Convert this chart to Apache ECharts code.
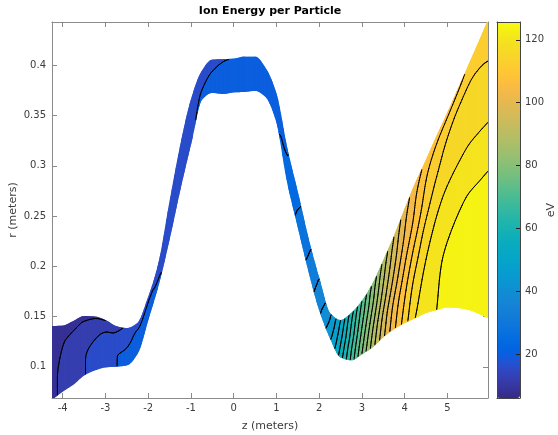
<!DOCTYPE html>
<html>
<head>
<meta charset="utf-8">
<script src="https://cdn.jsdelivr.net/npm/echarts@6/dist/echarts.min.js"></script>
<style>
  html, body { margin: 0; padding: 0; background: #fff; }
  #chart { width: 558px; height: 435px; }
</style>
</head>
<body>
<div id="chart"></div>
<script>
// Axial stations along the device (m)
const zNodes = [-4.25, -4.0, -3.75, -3.5, -3.25, -3.0, -2.75, -2.5, -2.25, -2.0, -1.75, -1.5, -1.25, -1.0,
  -0.75, -0.5, -0.25, 0.0, 0.25, 0.5, 0.75, 1.0, 1.25, 1.5, 1.75, 2.0, 2.25, 2.5, 2.75, 3.0, 3.25, 3.5,
  3.75, 4.0, 4.25, 4.5, 4.75, 5.0, 5.25, 5.5, 5.75, 5.95];

// Radius of the inner and outer bounding flux surfaces (m)
const rLower = [0.068, 0.076, 0.083, 0.092, 0.097, 0.100, 0.1007, 0.102, 0.114, 0.148, 0.184, 0.229, 0.278, 0.323,
  0.366, 0.373, 0.372, 0.3735, 0.374, 0.375, 0.369, 0.345, 0.286, 0.241, 0.197, 0.158, 0.130, 0.110, 0.107, 0.113,
  0.120, 0.130, 0.138, 0.144, 0.149, 0.154, 0.157, 0.1595, 0.159, 0.157, 0.153, 0.149];
const rUpper = [0.140, 0.1405, 0.145, 0.150, 0.1495, 0.146, 0.140, 0.138, 0.143, 0.168, 0.203, 0.262, 0.318, 0.364,
  0.393, 0.405, 0.4055, 0.406, 0.408, 0.408, 0.396, 0.370, 0.316, 0.272, 0.226, 0.187, 0.153, 0.146, 0.153, 0.165,
  0.182, 0.205, 0.229, 0.256, 0.282, 0.305, 0.329, 0.352, 0.376, 0.400, 0.424, 0.444];

// Ion energy per particle (eV) on six surfaces, inner (s = 0) to outer (s = 1)
const energyS0 = [9.5, 10.5, 11.6, 13.8, 15.0, 16.3, 17.9, 18.8, 19.4, 19.2, 18.3, 17.2, 17.2, 17.7,
  18.4, 19.0, 19.4, 19.8, 20.0, 20.3, 20.8, 21.7, 23.0, 27.0, 31.0, 37.0, 45.0, 56.0, 67.0, 78.0,
  88.0, 97.0, 105.0, 112.0, 118.0, 120.5, 122.0, 123.5, 124.5, 125.2, 125.6, 125.7];
const energyS1 = [9.5, 10.5, 11.6, 13.8, 15.0, 16.3, 17.9, 18.5, 19.2, 19.0, 18.0, 17.0, 17.0, 17.4,
  18.1, 18.7, 19.1, 19.6, 19.9, 20.2, 20.7, 21.6, 22.7, 26.5, 30.5, 36.3, 44.0, 54.5, 65.5, 76.0,
  86.0, 95.0, 103.0, 109.5, 115.5, 119.0, 121.3, 122.6, 123.4, 124.0, 124.6, 125.0];
const energyS2 = [9.3, 10.3, 11.4, 13.3, 14.3, 15.6, 17.0, 17.9, 18.8, 18.6, 17.6, 16.8, 16.7, 17.1,
  17.7, 18.3, 18.8, 19.4, 19.8, 20.1, 20.6, 21.4, 22.4, 26.0, 30.0, 35.5, 43.0, 53.0, 63.5, 74.0,
  83.5, 92.0, 99.5, 106.0, 111.5, 116.0, 118.6, 120.3, 121.2, 121.7, 121.8, 121.9];
const energyS3 = [8.0, 9.8, 10.8, 11.8, 12.8, 14.0, 15.0, 16.5, 18.2, 18.2, 17.3, 16.5, 16.4, 16.8,
  17.2, 17.8, 18.5, 19.2, 19.6, 20.0, 20.5, 21.2, 22.1, 25.5, 29.5, 34.8, 42.0, 51.5, 62.0, 72.0,
  81.0, 89.5, 96.5, 102.5, 107.0, 111.5, 114.3, 115.6, 116.2, 116.5, 116.2, 115.8];
const energyS4 = [7.0, 8.5, 9.5, 10.2, 10.8, 11.5, 13.6, 15.6, 17.2, 17.5, 17.0, 16.4, 16.3, 16.6,
  17.0, 17.5, 18.1, 18.7, 19.3, 19.8, 20.4, 21.1, 21.9, 25.2, 29.2, 34.4, 41.5, 50.7, 61.0, 71.0,
  80.0, 88.2, 95.2, 101.2, 105.6, 109.5, 111.9, 113.5, 114.3, 114.6, 114.0, 113.4];
const energyS5 = [6.0, 7.5, 8.5, 9.2, 9.7, 10.0, 12.5, 14.8, 16.5, 17.0, 16.8, 16.2, 16.2, 16.5,
  16.8, 17.2, 17.8, 18.2, 19.0, 19.6, 20.3, 21.0, 21.8, 25.0, 29.0, 34.0, 41.0, 50.0, 60.0, 70.0,
  79.0, 87.0, 94.0, 100.0, 104.0, 107.0, 108.5, 109.0, 109.5, 110.3, 110.8, 111.2];

// Filled-contour levels (eV) and colour range
const contourLevels = [10, 14, 18, 22, 26, 30, 34, 38, 42, 46, 50, 54, 58, 62, 66, 70, 74, 78, 82, 86,
  90, 94, 98, 102, 106, 110, 114, 118, 122];
const energyMin = 6.0;
const energyMax = 125.7;

// Tick marks
const zTicks = [-4, -3, -2, -1, 0, 1, 2, 3, 4, 5];
const rTicks = [0.1, 0.15, 0.2, 0.25, 0.3, 0.35, 0.4];
const eTicks = [20, 40, 60, 80, 100, 120];

// parula colour map
const parula = ['#352a87', '#363093', '#3637a0', '#353dad', '#3243ba', '#2c4ac7', '#2053d4', '#0f5cdd',
  '#0363e1', '#0268e1', '#046de0', '#0871de', '#0d75dc', '#1079da', '#127dd8', '#1481d6', '#1485d4',
  '#1389d3', '#108ed2', '#0c93d2', '#0998d1', '#079ccf', '#06a0cd', '#06a4ca', '#06a7c6', '#07a9c2',
  '#0aacbe', '#0faeb9', '#15b1b4', '#1db3af', '#25b5a9', '#2eb7a4', '#38b99e', '#42bb98', '#4dbc92',
  '#59bd8c', '#65be86', '#71bf80', '#7cbf7b', '#87bf77', '#92bf73', '#9cbf6f', '#a5be6b', '#aebe67',
  '#b7bd64', '#c0bc60', '#c8bc5d', '#d1bb59', '#d9ba56', '#e1b952', '#e9b94e', '#f1b94a', '#f8bb44',
  '#fdbe3d', '#ffc337', '#fec832', '#fcce2e', '#fad32a', '#f7d826', '#f5de21', '#f5e41d', '#f5eb18',
  '#f6f313', '#f9fb0e'];

const energyRows = [energyS0, energyS1, energyS2, energyS3, energyS4, energyS5];
const rowS = [0, 0.25, 0.5, 0.75, 0.9, 1];

// Monotone cubic (PCHIP) slopes
function pchipSlopes(x, y) {
  const n = y.length, m = new Array(n), d = [], h = [];
  for (let k = 0; k < n - 1; k++) { h[k] = x[k + 1] - x[k]; d[k] = (y[k + 1] - y[k]) / h[k]; }
  m[0] = d[0]; m[n - 1] = d[n - 2];
  for (let k = 1; k < n - 1; k++) {
    if (d[k - 1] * d[k] <= 0) { m[k] = 0; continue; }
    const w1 = 2 * h[k] + h[k - 1], w2 = h[k] + 2 * h[k - 1];
    m[k] = (w1 + w2) / (w1 / d[k - 1] + w2 / d[k]);
  }
  return m;
}
function hermite(x, y, m, i, t) {
  const h = x[i + 1] - x[i], t2 = t * t, t3 = t2 * t;
  return (2 * t3 - 3 * t2 + 1) * y[i] + (t3 - 2 * t2 + t) * h * m[i] +
    (-2 * t3 + 3 * t2) * y[i + 1] + (t3 - t2) * h * m[i + 1];
}
const mLower = pchipSlopes(zNodes, rLower);
const mUpper = pchipSlopes(zNodes, rUpper);
const mEnergy = energyRows.map(row => pchipSlopes(zNodes, row));

function acrossSurfaces(vals) {
  const m = pchipSlopes(rowS, vals);
  return function (s) {
    let i = 0;
    while (i < rowS.length - 2 && s > rowS[i + 1]) i++;
    const t = (s - rowS[i]) / (rowS[i + 1] - rowS[i]);
    return hermite(rowS, vals, m, i, t);
  };
}

// Each filled band takes the colour of the middle of its energy interval
function bandColor(v) {
  let k = 0;
  while (k < contourLevels.length && v >= contourLevels[k]) k++;
  const lower = k === 0 ? energyMin : contourLevels[k - 1];
  const upper = k === contourLevels.length ? energyMax : contourLevels[k];
  const t = Math.max(0, Math.min(1, ((lower + upper) / 2 - energyMin) / (energyMax - energyMin)));
  return { k: k, color: echarts.color.lerp(t, parula) };
}

// Sample one axial column of the flux tube on a fine (z, s) mesh in pixel space
function sampleColumn(i, api) {
  const NZ = 8;
  const z0 = zNodes[i], z1 = zNodes[i + 1];
  const zs = [], lo = [], hi = [], fns = [];
  let maxPx = 0;
  for (let a = 0; a <= NZ; a++) {
    const t = a / NZ;
    const z = z0 + (z1 - z0) * t;
    const l = hermite(zNodes, rLower, mLower, i, t);
    const u = hermite(zNodes, rUpper, mUpper, i, t);
    zs.push(z); lo.push(l); hi.push(u);
    fns.push(acrossSurfaces(energyRows.map((row, j) => hermite(zNodes, row, mEnergy[j], i, t))));
    maxPx = Math.max(maxPx, Math.abs(api.coord([z, l])[1] - api.coord([z, u])[1]));
  }
  const NS = Math.max(4, Math.ceil(maxPx / 1.4));
  const P = [], V = [];
  for (let a = 0; a <= NZ; a++) {
    P.push([]); V.push([]);
    for (let b = 0; b <= NS; b++) {
      const s = b / NS;
      P[a].push(api.coord([zs[a], lo[a] + s * (hi[a] - lo[a])]));
      V[a].push(fns[a](s));
    }
  }
  return { P: P, V: V, NZ: NZ, NS: NS };
}

function renderFill(params, api) {
  const g = sampleColumn(api.value(2), api);
  const children = [];
  for (let a = 0; a < g.NZ; a++) {
    let b0 = 0, cur = null;
    for (let b = 0; b <= g.NS; b++) {
      let bc = null;
      if (b < g.NS) {
        const v = (g.V[a][b] + g.V[a + 1][b] + g.V[a][b + 1] + g.V[a + 1][b + 1]) / 4;
        bc = bandColor(v);
      }
      if (cur && (b === g.NS || bc.k !== cur.k)) {
        children.push({
          type: 'polygon',
          shape: { points: [g.P[a][b0], g.P[a + 1][b0], g.P[a + 1][b], g.P[a][b]] },
          style: { fill: cur.color, stroke: cur.color, lineWidth: 1.1, lineJoin: 'miter' }
        });
        b0 = b; cur = bc;
      } else if (!cur) { cur = bc; b0 = b; }
    }
  }
  return { type: 'group', children: children };
}

function renderContours(params, api) {
  const g = sampleColumn(api.value(2), api);
  let d = '';
  const f2 = n => n.toFixed(2);
  for (let a = 0; a < g.NZ; a++) {
    for (let b = 0; b < g.NS; b++) {
      const cs = [[a, b], [a + 1, b], [a + 1, b + 1], [a, b + 1]];
      const vs = cs.map(c => g.V[c[0]][c[1]]);
      const lo = Math.min.apply(null, vs), hi = Math.max.apply(null, vs);
      for (const L of contourLevels) {
        if (L <= lo || L > hi) continue;
        const pts = [];
        for (let e = 0; e < 4; e++) {
          const p = cs[e], q = cs[(e + 1) % 4];
          const vp = vs[e], vq = vs[(e + 1) % 4];
          if ((vp >= L) !== (vq >= L)) {
            const f = (L - vp) / (vq - vp);
            const A = g.P[p[0]][p[1]], B = g.P[q[0]][q[1]];
            pts.push([A[0] + f * (B[0] - A[0]), A[1] + f * (B[1] - A[1])]);
          }
        }
        for (let k = 0; k + 1 < pts.length; k += 2) {
          d += 'M' + f2(pts[k][0]) + ' ' + f2(pts[k][1]) + 'L' + f2(pts[k + 1][0]) + ' ' + f2(pts[k + 1][1]);
        }
      }
    }
  }
  if (!d) return { type: 'group', children: [] };
  return {
    type: 'path',
    shape: { pathData: d },
    style: { fill: null, stroke: '#000', lineWidth: 1, lineCap: 'round' }
  };
}

const columns = zNodes.slice(0, -1).map((z, i) => [z, zNodes[i + 1], i]);

const axisGray = '#8a8a8a';
const labelColor = '#3c3c3c';
const font = 'DejaVu Sans';

const chart = echarts.init(document.getElementById('chart'));
chart.setOption({
  animation: false,
  backgroundColor: '#fff',
  graphic: [{
    type: 'text', x: 270, y: 11, silent: true,
    style: { text: 'Ion Energy per Particle', align: 'center', verticalAlign: 'middle',
      fontSize: 11, fontWeight: 'bold', fontFamily: font, fill: '#000' }
  }],
  grid: [
    { left: 52, top: 22, width: 436, height: 376, show: false, containLabel: false, outerBoundsMode: 'none' },
    { left: 497, top: 22, width: 23, height: 376, show: false, containLabel: false, outerBoundsMode: 'none' }
  ],
  xAxis: [
    { type: 'value', gridIndex: 0, min: -4.25, max: 5.95, position: 'bottom',
      name: 'z (meters)', nameLocation: 'middle', nameGap: 23, nameMoveOverlap: false,
      nameTextStyle: { fontSize: 11, color: labelColor, fontFamily: font },
      axisLine: { onZero: false, lineStyle: { color: axisGray } },
      axisTick: { inside: true, length: 5, customValues: zTicks, lineStyle: { color: axisGray } },
      axisLabel: { customValues: zTicks, color: labelColor, fontSize: 10, fontFamily: font, margin: 5 },
      splitLine: { show: false } },
    { type: 'value', gridIndex: 0, min: -4.25, max: 5.95, position: 'top',
      axisLine: { onZero: false, lineStyle: { color: axisGray } },
      axisTick: { inside: true, length: 5, customValues: zTicks, lineStyle: { color: axisGray } },
      axisLabel: { show: false }, splitLine: { show: false } },
    { type: 'value', gridIndex: 1, min: 0, max: 1, position: 'bottom', z: 10,
      axisLine: { onZero: false, lineStyle: { color: '#444' } },
      axisTick: { show: false }, axisLabel: { show: false }, splitLine: { show: false } },
    { type: 'value', gridIndex: 1, min: 0, max: 1, position: 'top', z: 10,
      axisLine: { onZero: false, lineStyle: { color: '#444' } },
      axisTick: { show: false }, axisLabel: { show: false }, splitLine: { show: false } }
  ],
  yAxis: [
    { type: 'value', gridIndex: 0, min: 0.069, max: 0.443, position: 'left',
      name: 'r (meters)', nameLocation: 'middle', nameGap: 33, nameRotate: 90, nameMoveOverlap: false,
      nameTextStyle: { fontSize: 11, color: labelColor, fontFamily: font },
      axisLine: { onZero: false, lineStyle: { color: axisGray } },
      axisTick: { inside: true, length: 5, customValues: rTicks, lineStyle: { color: axisGray } },
      axisLabel: { customValues: rTicks, color: labelColor, fontSize: 10, fontFamily: font, margin: 6 },
      splitLine: { show: false } },
    { type: 'value', gridIndex: 0, min: 0.069, max: 0.443, position: 'right',
      axisLine: { onZero: false, lineStyle: { color: axisGray } },
      axisTick: { inside: true, length: 5, customValues: rTicks, lineStyle: { color: axisGray } },
      axisLabel: { show: false }, splitLine: { show: false } },
    { type: 'value', gridIndex: 1, min: energyMin, max: energyMax, position: 'right', z: 10,
      name: 'eV', nameLocation: 'middle', nameGap: 26, nameRotate: 90, nameMoveOverlap: false,
      nameTextStyle: { fontSize: 11, color: labelColor, fontFamily: font },
      axisLine: { onZero: false, lineStyle: { color: '#444' } },
      axisTick: { inside: true, length: 4, customValues: eTicks, lineStyle: { color: '#222' } },
      axisLabel: { customValues: eTicks, color: labelColor, fontSize: 10, fontFamily: font, margin: 5 },
      splitLine: { show: false } },
    { type: 'value', gridIndex: 1, min: energyMin, max: energyMax, position: 'left', z: 10,
      axisLine: { onZero: false, lineStyle: { color: '#444' } },
      axisTick: { show: false }, axisLabel: { show: false }, splitLine: { show: false } }
  ],
  visualMap: {
    type: 'continuous', min: energyMin, max: energyMax, seriesIndex: 2,
    orient: 'vertical', left: 497, top: 22, itemWidth: 23, itemHeight: 376,
    padding: 0, calculable: false, hoverLink: false, text: null,
    inRange: { color: parula }
  },
  series: [
    { type: 'custom', name: 'energy', xAxisIndex: 0, yAxisIndex: 0, clip: true, silent: true,
      renderItem: renderFill, data: columns, encode: { x: [0, 1] }, z: 2 },
    { type: 'custom', name: 'contours', xAxisIndex: 0, yAxisIndex: 0, clip: true, silent: true,
      renderItem: renderContours, data: columns, encode: { x: [0, 1] }, z: 3 },
    { type: 'scatter', xAxisIndex: 2, yAxisIndex: 2, data: [], silent: true }
  ]
});
</script>
</body>
</html>
